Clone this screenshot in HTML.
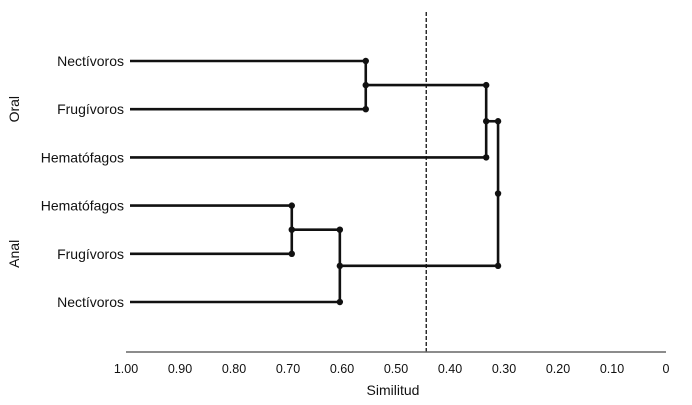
<!DOCTYPE html>
<html><head><meta charset="utf-8">
<style>
html,body{margin:0;padding:0;background:#fff;}
svg{display:block;font-family:"Liberation Sans",sans-serif;}
</style></head>
<body>
<svg id="chart" width="692" height="405" viewBox="0 0 692 405"></svg>
<script>
const leafLabels = ["Nectívoros","Frugívoros","Hematófagos","Hematófagos","Frugívoros","Nectívoros"];
const groupLabels = ["Oral","Anal"];
// merges: [childA, childB, similarity]; children <0 are leaves (-(i+1)), >=0 merge indices
const mergeLeft = [-1, 0, -4, 2, 1];
const mergeRight = [-2, -3, -5, -6, 3];
const mergeHeights = [0.556, 0.333, 0.693, 0.604, 0.311];
const cutValue = 0.444;
const tickValues = [1.0,0.9,0.8,0.7,0.6,0.5,0.4,0.3,0.2,0.1,0];
const tickLabels = ["1.00","0.90","0.80","0.70","0.60","0.50","0.40","0.30","0.20","0.10","0"];

const svg = document.getElementById('chart');
const NS = "http://www.w3.org/2000/svg";
const X0 = 126, X1 = 666;
function xScale(v){ return X0 + (1 - v) * (X1 - X0); }
function yLeaf(i){ return 61 + i * 48.2; }
const leafStartX = 130;

function mk(tag, attrs){ const e = document.createElementNS(NS, tag); for (const k in attrs) e.setAttribute(k, attrs[k]); svg.appendChild(e); return e; }

leafLabels.forEach((l, i) => {
  const t = mk('text', {x: 124, y: yLeaf(i) + 5, 'text-anchor': 'end', 'font-size': 14, fill: '#111'});
  
  
  t.textContent = l;
});
groupLabels.forEach((g, i) => {
  const cy = (yLeaf(i*3) + yLeaf(i*3+2)) / 2;
  const t = mk('text', {x: 0, y: 0, transform: `translate(19,${cy}) rotate(-90)`, 'text-anchor': 'middle', 'font-size': 14, fill: '#111'});
  
  
  t.textContent = g;
});

const nodes = [];
function pos(c){ return c < 0 ? {x: leafStartX, y: yLeaf(-c - 1), leaf: true} : nodes[c]; }
mergeHeights.forEach((h, m) => {
  const a = pos(mergeLeft[m]), b = pos(mergeRight[m]);
  const x = xScale(h);
  nodes.push({x: x, y: (a.y + b.y) / 2, leaf: false});
  [a, b].forEach((c, k) => {
    const ln = mk('line', {x1: c.x, y1: c.y, x2: x, y2: c.y, stroke: '#111', 'stroke-width': 2.6});
    
    
  });
  const v = mk('line', {x1: x, y1: a.y, x2: x, y2: b.y, stroke: '#111', 'stroke-width': 2.6});
  
  
  [a.y, b.y, (a.y + b.y) / 2].forEach((yy, k) => {
    const d = mk('circle', {cx: x, cy: yy, r: 3.2, fill: '#111'});
    
    
  });
});

const cut = mk('line', {x1: xScale(cutValue), y1: 12, x2: xScale(cutValue), y2: 352, stroke: '#111', 'stroke-width': 1.3, 'stroke-dasharray': '4,2'});



const ax = mk('line', {x1: X0, y1: 352, x2: X1, y2: 352, stroke: '#666', 'stroke-width': 1.4});


tickValues.forEach((v, i) => {
  const t = mk('text', {x: xScale(v), y: 373, 'text-anchor': 'middle', 'font-size': 12.5, fill: '#111'});
  
  
  t.textContent = tickLabels[i];
});
const title = mk('text', {x: 393, y: 395, 'text-anchor': 'middle', 'font-size': 14, fill: '#111'});


title.textContent = 'Similitud';
</script>
</body></html>
